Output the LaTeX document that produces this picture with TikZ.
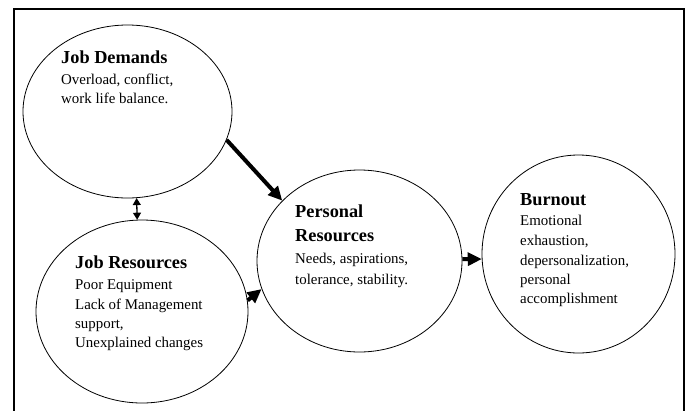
\documentclass[tikz,border=0pt]{standalone}
\usepackage{fontspec}
\setmainfont{Liberation Serif}
\usetikzlibrary{shapes.geometric,arrows.meta}
\begin{document}
\begin{tikzpicture}[x=1pt,y=-1pt,
  bubble/.style={draw,ellipse,line width=0.8pt,inner sep=0pt},
  title/.style={anchor=base west,inner sep=0pt,font=\fontsize{18.3}{22}\selectfont\bfseries},
  body/.style={anchor=base west,inner sep=0pt,font=\fontsize{14.9}{19}\selectfont},
  bigarrow/.style={line width=4pt,-{Triangle[length=14pt,width=13pt]}},
  twoway/.style={line width=1.3pt,{Triangle[length=7pt,width=8pt]}-{Triangle[length=7pt,width=8pt]}}]
\useasboundingbox (0,0) rectangle (694,410);
\fill[white] (0,0) rectangle (694,410);
% outer frame, open at the bottom
\draw[line width=2.4pt] (14,415) -- (14,9) -- (684,9) -- (684,415);

% the four constructs
\node[bubble,minimum width=209pt,minimum height=173pt] (jd) at (127.5,111.5) {};
\node[bubble,minimum width=212pt,minimum height=183pt] (jr) at (142,311.5) {};
\node[bubble,minimum width=205pt,minimum height=182pt] (pr) at (359.5,261) {};
\node[bubble,minimum width=193pt,minimum height=198pt] (bo) at (578.5,254) {};

% Job Demands
\node[title] (jdT) at (61,63) {Job Demands};
\node[body] (jd1) at (61,84) {Overload, conflict,};
\node[body] (jd2) at (61,103) {work life balance.};

% Job Resources
\node[title] (jrT) at (75,268) {Job Resources};
\node[body] (jr1) at (75,289) {Poor Equipment};
\node[body] (jr2) at (75,309) {Lack of Management};
\node[body] (jr3) at (75,328) {support,};
\node[body] (jr4) at (75,347) {Unexplained changes};

% Personal Resources
\node[title] (prT1) at (295,217) {Personal};
\node[title] (prT2) at (295,241) {Resources};
\node[body] (pr1) at (295,263) {Needs, aspirations,};
\node[body] (pr2) at (295,284) {tolerance, stability.};

% Burnout
\node[title] (boT) at (520,205) {Burnout};
\node[body] (bo1) at (520,225) {Emotional};
\node[body] (bo2) at (520,245) {exhaustion,};
\node[body] (bo3) at (520,265) {depersonalization,};
\node[body] (bo4) at (520,284) {personal};
\node[body] (bo5) at (520,303) {accomplishment};

% relations
\draw[bigarrow] (jd.-16) -- (pr.142);
\draw[twoway] (jd.-84) -- (jr.93);
\draw[bigarrow] (jr.6) -- (pr.-164);
\draw[bigarrow] (pr.1) -- (bo.-177);
\end{tikzpicture}
\end{document}
